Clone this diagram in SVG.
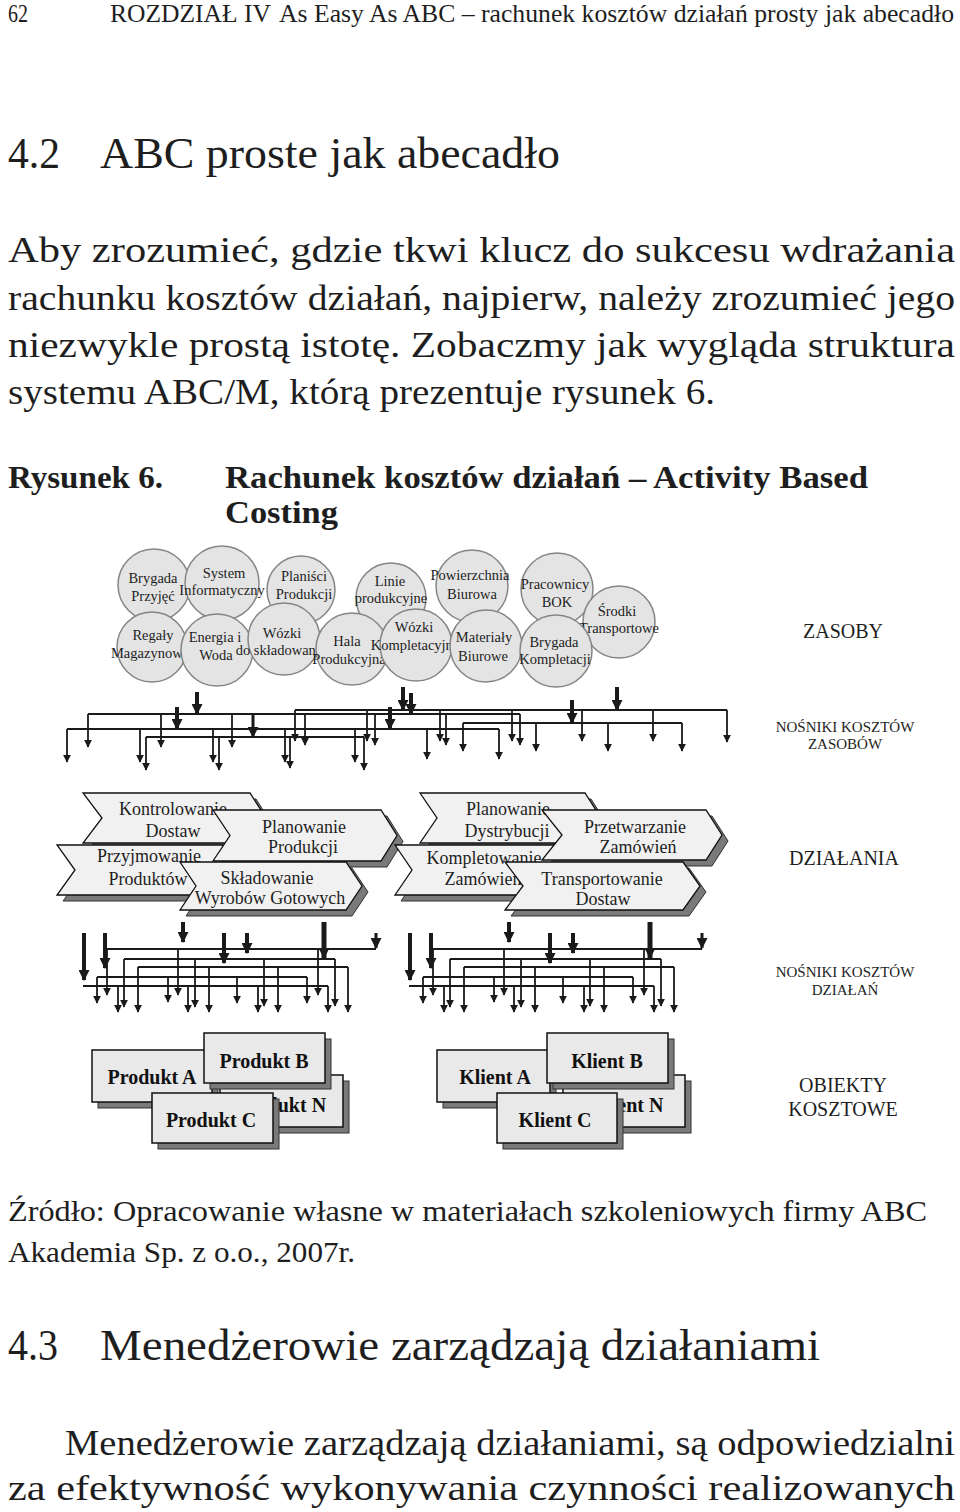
<svg xmlns="http://www.w3.org/2000/svg" xmlns:xlink="http://www.w3.org/1999/xlink" width="960" height="1512" viewBox="0 0 960 1512">
<style>
text{font-family:'Liberation Serif','DejaVu Serif',serif;fill:#1e1e1e}
.pg{font-size:36px}
.res circle{fill:#e4e4e4;stroke:#858585;stroke-width:1.5}
.res text{font-size:14.5px;text-anchor:middle}
.act .sh{fill:#7a7a7a;stroke:#333;stroke-width:1}
.act .bd{fill:#f1f1f1;stroke:#111;stroke-width:1.3}
.act text{font-size:18px;text-anchor:middle}
.obj .sh{fill:#7a7a7a;stroke:#333;stroke-width:1}
.obj .bd{fill:#e9e9e9;stroke:#111;stroke-width:1.5}
.obj text{font-size:20px;font-weight:bold;text-anchor:middle;fill:#111}
.lbl{text-anchor:middle}
.bus{fill:none;stroke:#1a1a1a;stroke-width:1.8}
.d{fill:none;stroke:#1a1a1a;stroke-width:1.8;marker-end:url(#ah)}
.t{fill:none;stroke:#1a1a1a;stroke-width:4;marker-end:url(#AH)}
</style>
<defs>
<marker id="ah" viewBox="0 0 10 10" refX="9" refY="5" markerWidth="8" markerHeight="8" markerUnits="userSpaceOnUse" orient="auto"><path d="M0,0L10,5L0,10z" fill="#1a1a1a"/></marker>
<marker id="AH" viewBox="0 0 10 10" refX="9" refY="5" markerWidth="11" markerHeight="11" markerUnits="userSpaceOnUse" orient="auto"><path d="M0,0L10,5L0,10z" fill="#1a1a1a"/></marker>
</defs>
<rect width="960" height="1512" fill="#fff"/>

<g id="page-text">
<text x="8" y="22" font-size="26" textLength="20" lengthAdjust="spacingAndGlyphs">62</text>
<text x="110" y="22" font-size="26" textLength="161" lengthAdjust="spacingAndGlyphs">ROZDZIAŁ IV</text>
<text x="279" y="22" font-size="26" textLength="675" lengthAdjust="spacingAndGlyphs">As Easy As ABC – rachunek kosztów działań prosty jak abecadło</text>
<text x="8" y="168" font-size="44" textLength="52" lengthAdjust="spacingAndGlyphs">4.2</text>
<text x="100" y="168" font-size="44" textLength="460" lengthAdjust="spacingAndGlyphs">ABC proste jak abecadło</text>
<text class="pg" x="8" y="262" textLength="947" lengthAdjust="spacingAndGlyphs">Aby zrozumieć, gdzie tkwi klucz do sukcesu wdrażania</text>
<text class="pg" x="8" y="310" textLength="947" lengthAdjust="spacingAndGlyphs">rachunku kosztów działań, najpierw, należy zrozumieć jego</text>
<text class="pg" x="8" y="357" textLength="947" lengthAdjust="spacingAndGlyphs">niezwykle prostą istotę. Zobaczmy jak wygląda struktura</text>
<text class="pg" x="8" y="404" textLength="707" lengthAdjust="spacingAndGlyphs">systemu ABC/M, którą prezentuje rysunek 6.</text>
<text x="8" y="488" font-size="31" font-weight="bold" textLength="155" lengthAdjust="spacingAndGlyphs">Rysunek 6.</text>
<text x="225" y="488" font-size="31" font-weight="bold" textLength="643" lengthAdjust="spacingAndGlyphs">Rachunek kosztów działań – Activity Based</text>
<text x="225" y="523" font-size="31" font-weight="bold" textLength="113" lengthAdjust="spacingAndGlyphs">Costing</text>
<text x="8" y="1221" font-size="29" textLength="919" lengthAdjust="spacingAndGlyphs">Źródło: Opracowanie własne w materiałach szkoleniowych firmy ABC</text>
<text x="8" y="1262" font-size="29" textLength="347" lengthAdjust="spacingAndGlyphs">Akademia Sp. z o.o., 2007r.</text>
<text x="8" y="1360" font-size="44" textLength="50" lengthAdjust="spacingAndGlyphs">4.3</text>
<text x="100" y="1360" font-size="44" textLength="720" lengthAdjust="spacingAndGlyphs">Menedżerowie zarządzają działaniami</text>
<text class="pg" x="65" y="1455" textLength="890" lengthAdjust="spacingAndGlyphs">Menedżerowie zarządzają działaniami, są odpowiedzialni</text>
<text class="pg" x="8" y="1500" textLength="947" lengthAdjust="spacingAndGlyphs">za efektywność wykonywania czynności realizowanych</text>
</g>

<g id="resources" class="res">
<g id="r-brygada-przyjec"><circle cx="154" cy="585" r="36"/><text x="153" y="583">Brygada</text><text x="153" y="601">Przyjęć</text></g>
<g id="r-system"><circle cx="222" cy="583" r="37"/><text x="224" y="578">System</text><text x="222" y="595">Informatyczny</text></g>
<g id="r-planisci"><circle cx="301" cy="590" r="34"/><text x="304" y="581">Planiści</text><text x="304" y="599">Produkcji</text></g>
<g id="r-linie"><circle cx="391" cy="598" r="35"/><text x="390" y="586">Linie</text><text x="391" y="603">produkcyjne</text></g>
<g id="r-powierzchnia"><circle cx="472" cy="586" r="36"/><text x="470" y="580">Powierzchnia</text><text x="472" y="599">Biurowa</text></g>
<g id="r-pracownicy"><circle cx="557" cy="589" r="36"/><text x="555" y="589">Pracownicy</text><text x="557" y="607">BOK</text></g>
<g id="r-srodki"><circle cx="619" cy="622" r="36"/><text x="617" y="616">Środki</text><text x="619" y="633">Transportowe</text></g>
<g id="r-regaly"><circle cx="152" cy="647" r="35"/><text x="153" y="640">Regały</text><text x="150" y="658">Magazynowe</text></g>
<g id="r-energia"><circle cx="217" cy="650" r="36"/><text x="215" y="642">Energia i</text><text x="216" y="660">Woda</text></g>
<g id="r-wozki-skl"><circle cx="284" cy="639" r="36"/><text x="282" y="638">Wózki</text><text x="281" y="655">do składowania</text></g>
<g id="r-hala"><circle cx="352" cy="649" r="36"/><text x="347" y="646">Hala</text><text x="349" y="664">Produkcyjna</text></g>
<g id="r-wozki-kompl"><circle cx="416" cy="645" r="36"/><text x="414" y="632">Wózki</text><text x="415" y="650">Kompletacyjne</text></g>
<g id="r-materialy"><circle cx="486" cy="646" r="36"/><text x="484" y="642">Materiały</text><text x="483" y="661">Biurowe</text></g>
<g id="r-brygada-kompl"><circle cx="556" cy="651" r="36"/><text x="554" y="647">Brygada</text><text x="555" y="664">Kompletacji</text></g>
</g>

<g id="activities" class="act">
<g id="a-kontrolowanie"><path class="sh" transform="translate(6 6)" d="M83,793H250L266,818L250,843H83L102,818Z"/><path class="bd" d="M83,793H250L266,818L250,843H83L102,818Z"/><text x="173" y="815">Kontrolowanie</text><text x="173" y="837">Dostaw</text></g>
<g id="a-przyjmowanie"><path class="sh" transform="translate(6 6)" d="M57,845H222L238,870L222,895H57L75,870Z"/><path class="bd" d="M57,845H222L238,870L222,895H57L75,870Z"/><text x="149" y="862">Przyjmowanie</text><text x="148" y="885">Produktów</text></g>
<g id="a-planowanie-prod"><path class="sh" transform="translate(6 6)" d="M213,810H381L397,835.5L381,861H213L230,835.5Z"/><path class="bd" d="M213,810H381L397,835.5L381,861H213L230,835.5Z"/><text x="304" y="833">Planowanie</text><text x="303" y="853">Produkcji</text></g>
<g id="a-skladowanie"><path class="sh" transform="translate(6 6)" d="M180,862H346L362,886L346,910H180L196,886Z"/><path class="bd" d="M180,862H346L362,886L346,910H180L196,886Z"/><text x="267" y="884">Składowanie</text><text x="270" y="904">Wyrobów Gotowych</text></g>
<g id="a-planowanie-dystr"><path class="sh" transform="translate(6 6)" d="M420,793H585L601,818L585,843H420L437,818Z"/><path class="bd" d="M420,793H585L601,818L585,843H420L437,818Z"/><text x="508" y="815">Planowanie</text><text x="507" y="837">Dystrybucji</text></g>
<g id="a-kompletowanie"><path class="sh" transform="translate(6 6)" d="M395,845H560L576,870L560,895H395L412,870Z"/><path class="bd" d="M395,845H560L576,870L560,895H395L412,870Z"/><text x="484" y="864">Kompletowanie</text><text x="483" y="885">Zamówień</text></g>
<g id="a-przetwarzanie"><path class="sh" transform="translate(6 6)" d="M542,810H706L722,835L706,860H542L562,835Z"/><path class="bd" d="M542,810H706L722,835L706,860H542L562,835Z"/><text x="635" y="833">Przetwarzanie</text><text x="638" y="853">Zamówień</text></g>
<g id="a-transportowanie"><path class="sh" transform="translate(6 6)" d="M505,862H683L700,886L683,910H505L523,886Z"/><path class="bd" d="M505,862H683L700,886L683,910H505L523,886Z"/><text x="602" y="885">Transportowanie</text><text x="603" y="905">Dostaw</text></g>
</g>

<g id="objects" class="obj">
<g id="o-produkt-n"><rect class="sh" x="226" y="1081" width="123" height="52"/><rect class="bd" x="220" y="1075" width="123" height="52"/><text x="281" y="1112">Produkt N</text></g>
<g id="o-produkt-a"><rect class="sh" x="98" y="1056" width="120" height="52"/><rect class="bd" x="92" y="1050" width="120" height="52"/><text x="152" y="1084">Produkt A</text></g>
<g id="o-produkt-b"><rect class="sh" x="210" y="1039" width="121" height="50"/><rect class="bd" x="204" y="1033" width="121" height="50"/><text x="264" y="1068">Produkt B</text></g>
<g id="o-produkt-c"><rect class="sh" x="158" y="1099" width="121" height="50"/><rect class="bd" x="152" y="1093" width="121" height="50"/><text x="211" y="1127">Produkt C</text></g>
<g id="o-klient-n"><rect class="sh" x="569" y="1081" width="122" height="52"/><rect class="bd" x="563" y="1075" width="122" height="52"/><text x="627" y="1112">Klient N</text></g>
<g id="o-klient-a"><rect class="sh" x="443" y="1056" width="113" height="52"/><rect class="bd" x="437" y="1050" width="113" height="52"/><text x="495" y="1084">Klient A</text></g>
<g id="o-klient-b"><rect class="sh" x="553" y="1039" width="121" height="50"/><rect class="bd" x="547" y="1033" width="121" height="50"/><text x="607" y="1068">Klient B</text></g>
<g id="o-klient-c"><rect class="sh" x="503" y="1099" width="120" height="50"/><rect class="bd" x="497" y="1093" width="120" height="50"/><text x="555" y="1127">Klient C</text></g>
</g>

<g id="labels" class="lbl">
<text x="843" y="638" font-size="20">ZASOBY</text>
<text x="845" y="732" font-size="15">NOŚNIKI KOSZTÓW</text>
<text x="845" y="749" font-size="15">ZASOBÓW</text>
<text x="844" y="865" font-size="20">DZIAŁANIA</text>
<text x="845" y="977" font-size="15">NOŚNIKI KOSZTÓW</text>
<text x="845" y="995" font-size="15">DZIAŁAŃ</text>
<text x="843" y="1092" font-size="20">OBIEKTY</text>
<text x="843" y="1116" font-size="20">KOSZTOWE</text>
</g>

<g id="connectors">
<g id="resource-drivers">
<path class="bus" d="M295,710H727M88,714H520M463,723H682M67,729H499M146,737H364"/>
<path class="d" d="M295,710V741"/><path class="d" d="M367,710V741"/><path class="d" d="M440,710V741"/><path class="d" d="M512,710V741"/><path class="d" d="M582,710V741"/><path class="d" d="M653,710V741"/><path class="d" d="M727,710V742"/>
<path class="d" d="M88,714V747"/><path class="d" d="M161,714V747"/><path class="d" d="M232,714V747"/><path class="d" d="M305,714V745"/><path class="d" d="M375,714V745"/><path class="d" d="M446,714V745"/><path class="d" d="M520,714V745"/>
<path class="d" d="M463,723V751"/><path class="d" d="M536,723V751"/><path class="d" d="M608,723V751"/><path class="d" d="M682,723V751"/>
<path class="d" d="M67,729V762"/><path class="d" d="M140,729V762"/><path class="d" d="M213,729V762"/><path class="d" d="M285,729V762"/><path class="d" d="M355,729V762"/><path class="d" d="M427,729V759"/><path class="d" d="M499,729V759"/>
<path class="d" d="M146,737V770"/><path class="d" d="M219,737V770"/><path class="d" d="M290,737V768"/><path class="d" d="M364,737V770"/>
<path class="t" d="M197,692V714"/><path class="t" d="M177,707V729"/><path class="t" style="stroke-width:3" d="M253,715V737"/><path class="t" d="M403,687V710"/><path class="t" d="M411,693V714"/><path class="t" d="M390,707V729"/><path class="t" d="M572,700V723"/><path class="t" d="M617,687V710"/>
</g>
<g id="activity-drivers-left">
<path class="bus" d="M107,949H376M124,959H335M138,967H348M97,977H307M83,986H328"/>
<path class="d" d="M107,949V995"/><path class="d" d="M178,949V995"/><path class="d" d="M318,949V995"/>
<path class="d" d="M124,959V1007"/><path class="d" d="M195,959V1007"/><path class="d" d="M264,959V1006"/><path class="d" d="M335,959V1006"/>
<path class="d" d="M138,967V1012"/><path class="d" d="M209,967V1012"/><path class="d" d="M278,967V1012"/><path class="d" d="M348,967V1012"/>
<path class="d" d="M97,977V1003"/><path class="d" d="M168,977V1002"/><path class="d" d="M237,977V1003"/><path class="d" d="M307,977V1003"/>
<path class="d" d="M118,986V1012"/><path class="d" d="M188,986V1012"/><path class="d" d="M258,986V1012"/><path class="d" d="M328,986V1012"/>
<path class="t" d="M84,933V980"/><path class="t" d="M105,933V968"/><path class="t" d="M183,922V942"/><path class="t" d="M224,933V963"/><path class="t" d="M247,933V953"/><path class="t" style="stroke-width:5" d="M324,922V958"/><path class="t" style="stroke-width:3" d="M376,933V948"/>
</g>
<use id="activity-drivers-right" xlink:href="#activity-drivers-left" href="#activity-drivers-left" transform="translate(326 0)"/>
</g>
</svg>
